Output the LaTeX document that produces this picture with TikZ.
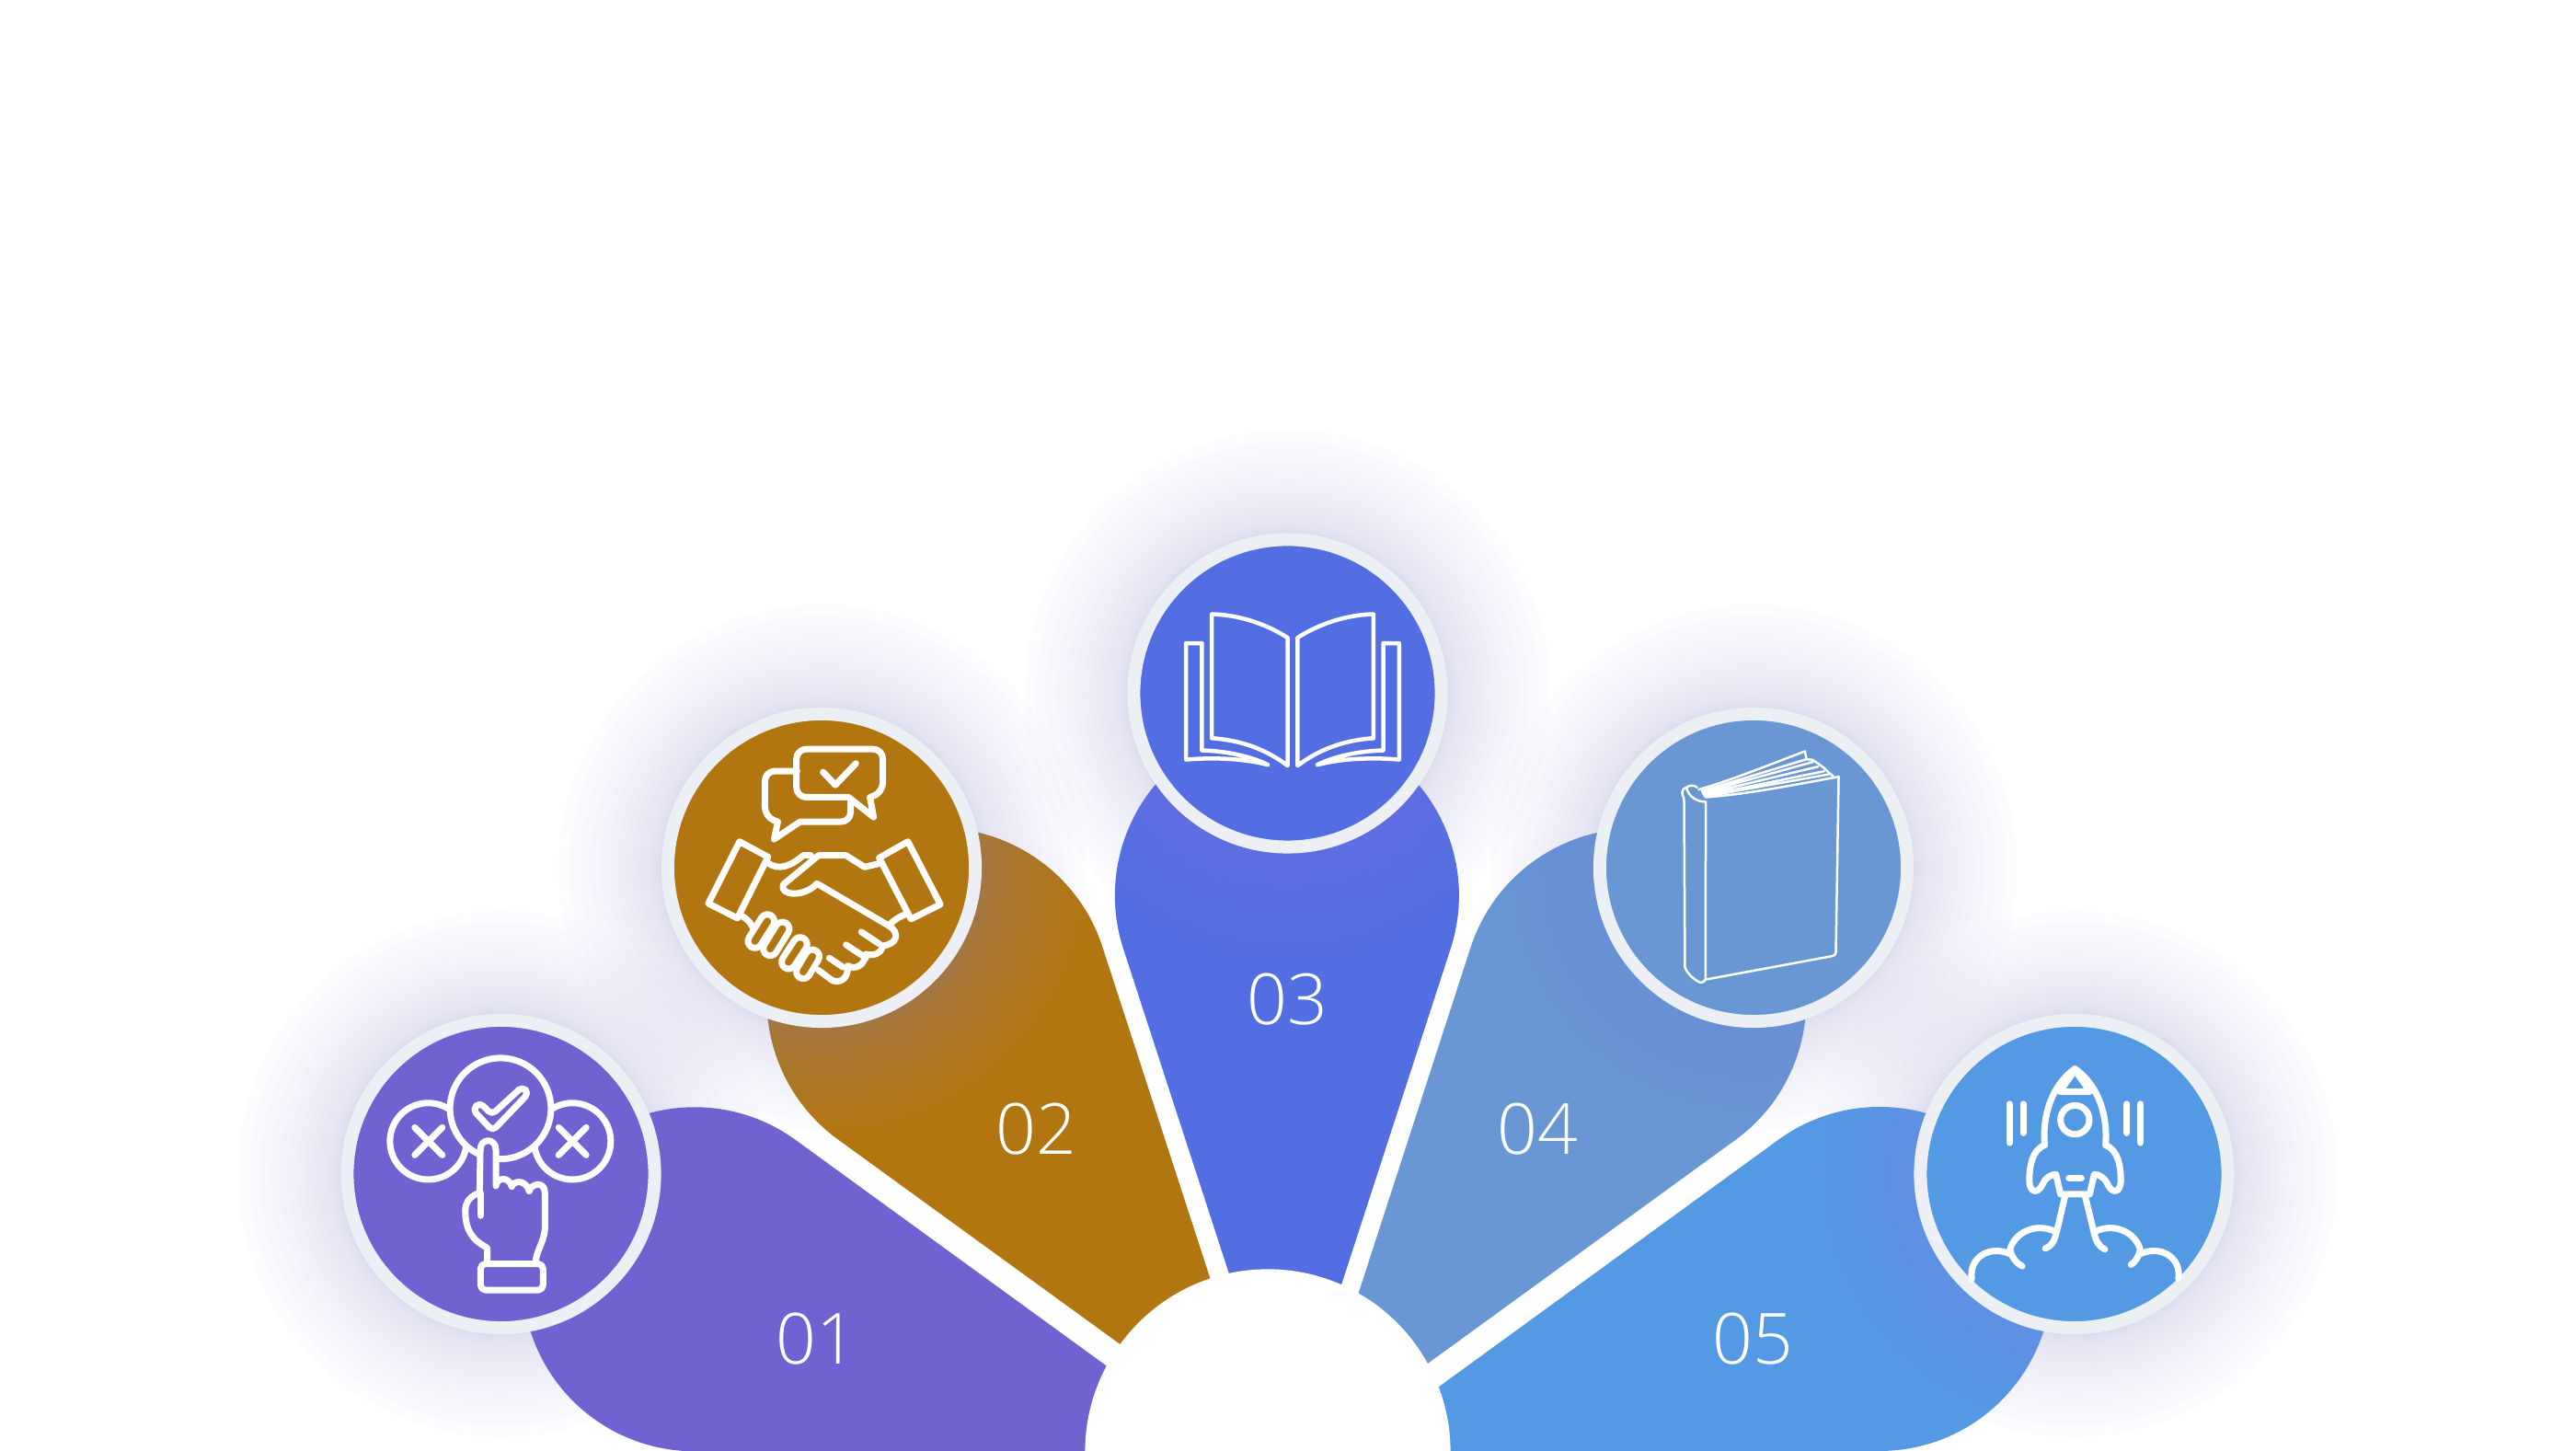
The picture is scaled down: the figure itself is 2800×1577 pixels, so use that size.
\documentclass[tikz,border=0pt]{standalone}
\usepackage{xcolor}
\usepackage{fontspec}
\setsansfont{Open Sans Light}
\usetikzlibrary{positioning}

\definecolor{petalA}{HTML}{7062D0}
\definecolor{petalB}{HTML}{B27611}
\definecolor{petalC}{HTML}{536EE2}
\definecolor{petalD}{HTML}{6897D4}
\definecolor{petalE}{HTML}{5499E3}
\definecolor{ringcol}{HTML}{ECF0F4}
\definecolor{glowcol}{HTML}{9090F0}

\tikzset{
    petal/.pic={\fill (0,0) -- (72:575) arc[start angle=-18,end angle=198,radius=187] -- cycle;},
    glowdisc/.pic={\foreach \i in {1,...,16}{\fill[glowcol, fill opacity=0.02] (0,0) circle ({174+112*(\i/16)^1.8});}},
    badge/.style={circle, draw=ringcol, line width=1.4mm, minimum size=33.4mm, inner sep=0pt},
    numlab/.style={text=white, font=\sffamily\fontsize{21.8}{22}\selectfont},
    iconzoom/.style 2 args={shift={(#1,#2)}, x=0.003333cm, y=-0.003333cm},
    iconline/.style={draw=white, line width=0.7mm, line cap=round, line join=round},
    fingerline/.style={double=petalB, double distance=0.8mm}
}

\begin{document}
\begin{tikzpicture}[x=0.01cm, y=0.01cm]
    \useasboundingbox[fill=white] (0,0) rectangle (2800,1577);

    \pic[rotate=72,color=petalA]  at (1330,0)  {petal};
    \pic[rotate=36,color=petalB]  at (1376,1)  {petal};
    \pic[color=petalC]            at (1399,-1) {petal};
    \pic[rotate=-36,color=petalD] at (1421,0)  {petal};
    \pic[rotate=-72,color=petalE] at (1468,0)  {petal};
    \node[circle, fill=white, minimum size=39.7mm] (hole) at (1378,-1) {};

    \coordinate (ca) at (544.5,301);
    \coordinate (cb) at (893,634);
    \coordinate (cc) at (1399.5,823.5);
    \coordinate (cd) at (1906,634);
    \coordinate (ce) at (2254.5,301);

    \pic at (ca) {glowdisc};
    \pic at (cb) {glowdisc};
    \pic at (cc) {glowdisc};
    \pic at (cd) {glowdisc};
    \pic at (ce) {glowdisc};

    \node[badge, fill=petalA] (ba) at (ca) {};
    \node[badge, fill=petalB] (bb) at (cb) {};
    \node[badge, fill=petalC] (bc) at (cc) {};
    \node[badge, fill=petalD] (bd) at (cd) {};
    \node[badge, fill=petalE] (be) at (ce) {};

    \node[numlab] (numa) at (887,122) {01};
    \node[numlab] (numb) at (1126,349.5) {02};
    \node[numlab] (numc) at (1399,491) {03};
    \node[numlab] (numd) at (1671,350) {04};
    \node[numlab] (nume) at (1905,122) {05};

    % choice icon
    \begin{scope}[iconzoom={340}{497}, iconline]
        \draw (377,482) circle (125);
        \draw (848,482) circle (125);
        \draw[fill=petalA] (613,375) circle (165);
        \draw (333,437) -- (423,527) (423,437) -- (333,527);
        \draw (803,437) -- (893,527) (893,437) -- (803,527);
        \draw[rounded corners=1.5pt] (522,378) -- (545,355) -- (585,395) -- (685,303) -- (705,325) -- (587,448) -- cycle;
        \draw[fill=petalA] (570,875) -- (570,830) .. controls (520,805) and (498,770) .. (498,710) .. controls (498,680) and (515,660) .. (545,650) -- (547,510) .. controls (547,470) and (598,470) .. (598,510) -- (598,628) .. controls (600,600) and (640,595) .. (650,630) .. controls (655,610) and (695,605) .. (707,645) .. controls (712,620) and (758,610) .. (758,650) -- (758,770) .. controls (755,810) and (730,840) .. (728,875);
        \draw (547,650) -- (547,725);
        \draw[rounded corners=1.5pt] (548,882) rectangle (752,968);
    \end{scope}

    % handshake icon
    \begin{scope}[iconzoom={700}{827}, iconline]
        \draw (500,265) [rounded corners=3pt] -- (395,265) -- (395,415) [sharp corners] -- (437,430) -- (425,487) -- (510,430) [rounded corners=3pt] -- (675,430) -- (675,360);
        \draw (668,350) [rounded corners=3pt] -- (498,350) -- (498,193) -- (780,193) -- (780,335) [sharp corners] -- (738,350) -- (750,415) -- cycle;
        \draw (585,268) -- (625,310) -- (692,240);
        \draw (312,495) -- (405,545) -- (305,745) -- (210,697) -- cycle;
        \draw (768,548) -- (862,495) -- (968,700) -- (872,748) -- cycle;
        \draw (405,565) .. controls (440,590) and (480,575) .. (520,540) -- (545,540);
        \draw (775,565) -- (720,578) -- (660,540) -- (570,540) -- (455,635) .. controls (440,670) and (520,680) .. (565,632) -- (800,770);
        \draw (315,735) .. controls (335,745) and (350,760) .. (360,785);
        \draw[fingerline] (403,755) -- (362,820);
        \draw[fingerline] (452,780) -- (412,845);
        \draw[fingerline] (510,830) -- (472,888);
        \draw[fingerline] (550,870) -- (520,920);
        \draw (800,770) .. controls (835,790) and (830,830) .. (780,835) .. controls (775,860) and (750,870) .. (725,862) .. controls (720,900) and (690,915) .. (665,900) .. controls (670,950) and (630,960) .. (610,945) -- (570,915);
        \draw (710,790) -- (770,830) (660,832) -- (725,875) (605,875) -- (650,905);
        \draw (800,770) .. controls (815,750) and (835,740) .. (860,730);
    \end{scope}

    % open book icon
    \begin{scope}[iconzoom={1190}{1007}, iconline, line width=0.45mm]
        \draw (382,293) .. controls (470,295) and (560,325) .. (630,370) -- (630,788) .. controls (560,735) and (480,705) .. (382,698) -- cycle;
        \draw (350,388) -- (298,388) -- (298,768) .. controls (390,760) and (490,765) .. (565,785) .. controls (520,762) and (440,740) .. (350,738) -- cycle;
        \draw (910,293) .. controls (822,295) and (732,325) .. (662,370) -- (662,788) .. controls (732,735) and (812,705) .. (910,698) -- cycle;
        \draw (942,388) -- (994,388) -- (994,768) .. controls (902,760) and (802,765) .. (727,785) .. controls (772,762) and (852,740) .. (942,738) -- cycle;
    \end{scope}

    % closed book icon
    \begin{scope}[iconzoom={1700}{827}, iconline, line width=0.25mm]
        \draw (400,318) .. controls (380,325) and (385,340) .. (392,355) -- (395,905) .. controls (400,925) and (430,950) .. (445,955) .. controls (455,955) and (460,950) .. (462,945) -- (463,365) .. controls (430,365) and (405,345) .. (400,318) .. controls (410,310) and (425,310) .. (435,318);
        \draw (463,350) .. controls (600,340) and (750,310) .. (897,283) -- (888,855) .. controls (888,865) and (880,868) .. (870,870) -- (465,945);
        \draw (440,325) .. controls (560,290) and (680,240) .. (787,200) -- (792,226) -- (812,228) -- (830,240) -- (850,255) -- (865,270) -- (880,282);
        \draw (450,330) -- (792,226) (452,335) -- (812,235) (455,340) -- (830,250) (458,345) -- (850,265) (460,348) -- (865,275);
    \end{scope}

    % rocket icon
    \begin{scope}[iconzoom={2050}{497}, iconline]
        \draw (518,495) .. controls (510,400) and (540,300) .. (617,245) .. controls (695,300) and (725,400) .. (717,495) .. controls (760,510) and (767,570) .. (767,610) .. controls (767,650) and (740,655) .. (725,625) .. controls (715,600) and (695,590) .. (680,590) -- (665,655) -- (570,655) -- (555,590) .. controls (540,590) and (520,600) .. (510,625) .. controls (495,655) and (468,650) .. (468,610) .. controls (468,570) and (475,510) .. (518,495) -- cycle;
        \draw (617,250) -- (567,320) -- (667,320) -- cycle;
        \draw (617,412) circle (47);
        \draw (597,602) -- (638,602);
        \draw (403,360) -- (403,487) (448,360) -- (448,455) (787,360) -- (787,455) (832,360) -- (832,487);
        \draw (585,660) -- (558,775) .. controls (550,810) and (540,825) .. (520,832);
        \draw (650,660) -- (678,775) .. controls (685,810) and (695,825) .. (715,835);
        \draw (555,778) .. controls (490,745) and (420,780) .. (405,835) .. controls (410,860) and (425,880) .. (445,890);
        \draw (405,850) .. controls (340,820) and (270,860) .. (280,932);
        \draw (680,778) .. controls (745,745) and (815,780) .. (830,835) .. controls (825,860) and (815,875) .. (800,885);
        \draw (830,850) .. controls (895,820) and (965,860) .. (955,930);
    \end{scope}
\end{tikzpicture}
\end{document}
